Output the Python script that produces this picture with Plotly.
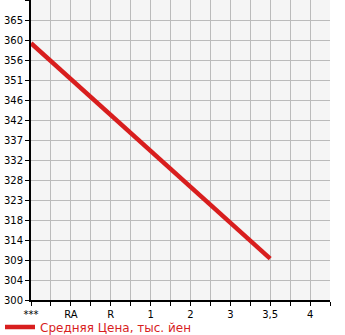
import plotly.graph_objects as go

categories = ["***", "RA", "R", "1", "2", "3", "3,5", "4"]
series_x = ["***", "3,5"]
series_values = [359.6, 309.6]
y_min = 300
y_step = 65 / 14
y_labels = ["300", "304", "309", "314", "318", "323", "328", "332", "337", "342",
            "346", "351", "356", "360", "365"]

pos = {c: i for i, c in enumerate(categories)}
xs = [pos[c] for c in series_x]

xtickvals = [i * 0.5 for i in range(16)]
xticktext = [categories[int(v)] if v == int(v) and int(v) < len(categories) else "" for v in xtickvals]

ytickvals = [y_min + k * y_step for k in range(16)]
yticktext = y_labels + [""]

red = "#d81e1e"
W, H = 345, 335
fig = go.Figure()
fig.add_trace(go.Scatter(x=xs, y=series_values, mode="lines",
                         line=dict(color=red, width=4.5),
                         name="Средняя Цена, тыс. йен", showlegend=True))

fig.update_layout(
    width=W, height=H,
    margin=dict(l=31, r=15, t=0, b=35, autoexpand=False),
    paper_bgcolor="white", plot_bgcolor="#f5f5f5",
    font=dict(family="DejaVu Sans", size=10, color="black"),
    showlegend=True,
    legend=dict(x=-8 / W, xref="container", y=8 / H, yref="container",
                xanchor="left", yanchor="middle",
                orientation="h", font=dict(size=12, color=red), bgcolor="rgba(0,0,0,0)",
                itemwidth=30, tracegroupgap=0),
    xaxis=dict(range=[0, 7.5], tickvals=xtickvals, ticktext=xticktext,
               showgrid=True, gridcolor="#bbbbbb", gridwidth=1,
               showline=True, linecolor="black", linewidth=2,
               ticks="outside", ticklen=4, tickcolor="black", tickwidth=1,
               zeroline=False, fixedrange=True, tickfont=dict(size=10), automargin=False),
    yaxis=dict(range=[y_min, y_min + 15 * y_step], tickvals=ytickvals, ticktext=yticktext,
               showgrid=True, gridcolor="#bbbbbb", gridwidth=1,
               showline=True, linecolor="black", linewidth=2,
               ticks="outside", ticklen=4, tickcolor="black", tickwidth=1,
               zeroline=False, fixedrange=True, tickfont=dict(size=10), automargin=False),
)
fig.write_html("out.html", config={"displayModeBar": False})
